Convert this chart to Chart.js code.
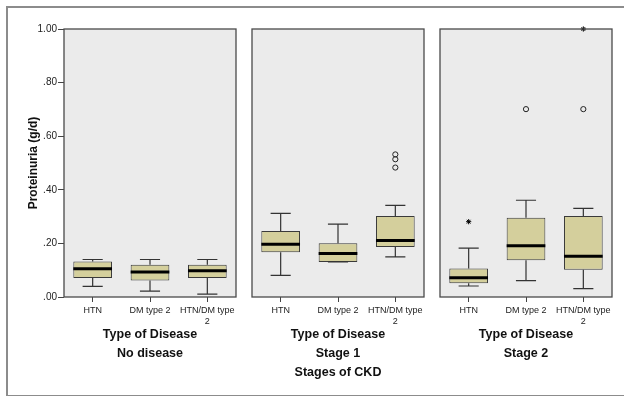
<!DOCTYPE html>
<html>
<head>
<meta charset="utf-8">
<script src="https://cdn.jsdelivr.net/npm/chart.js@4/dist/chart.umd.min.js"></script>
<style>
body { margin: 0; background: #fff; overflow: hidden; }
#wrap { position: relative; width: 624px; height: 396px; }
#wrap canvas { position: absolute; left: 0; top: 0; }
#frame { position: absolute; left: 6px; top: 6px; width: 640px; height: 387px;
  border: 2px solid #8c8c8c; border-right: none; }
</style>
</head>
<body>
<div id="wrap">
  <div id="frame"></div>
  <canvas id="p0" width="624" height="396"></canvas>
  <canvas id="p1" width="624" height="396"></canvas>
  <canvas id="p2" width="624" height="396"></canvas>
</div>
<script>
// categories and panels
var categories = ['HTN', 'DM type 2', 'HTN/DM type 2'];
var stages = ['No disease', 'Stage 1', 'Stage 2'];

// box plot statistics, one row per stage
var whiskerLow  = [[0.040, 0.022, 0.011], [0.081, 0.131, 0.150], [0.041, 0.061, 0.031]];
var q1          = [[0.071, 0.062, 0.071], [0.167, 0.131, 0.187], [0.051, 0.137, 0.102]];
var median      = [[0.105, 0.093, 0.098], [0.197, 0.162, 0.211], [0.072, 0.191, 0.152]];
var q3          = [[0.132, 0.120, 0.120], [0.246, 0.201, 0.302], [0.106, 0.296, 0.302]];
var whiskerHigh = [[0.140, 0.140, 0.140], [0.312, 0.272, 0.342], [0.182, 0.361, 0.331]];

// outliers (circles) and extremes (stars)
var circles = [
  [],
  [{x: 'HTN/DM type 2', y: 0.532}, {x: 'HTN/DM type 2', y: 0.514}, {x: 'HTN/DM type 2', y: 0.483}],
  [{x: 'DM type 2', y: 0.701}, {x: 'HTN/DM type 2', y: 0.701}]
];
var stars = [
  [],
  [],
  [{x: 'HTN', y: 0.281}, {x: 'HTN/DM type 2', y: 1.0}]
];

var yTicks = [0, 0.2, 0.4, 0.6, 0.8, 1.0];

var boxPlugin = {
  id: 'boxPlugin',
  beforeDatasetsDraw: function(chart) {
    var a = chart.chartArea, ctx = chart.ctx;
    ctx.save();
    ctx.fillStyle = '#ebebeb';
    ctx.fillRect(a.left, a.top, a.right - a.left, a.bottom - a.top);
    ctx.restore();
  },
  afterDatasetDraw: function(chart, args) {
    if (args.index !== 0) return;
    var p = chart.options.plugins.boxPlugin.panel;
    var y = chart.scales.y, ctx = chart.ctx;
    var meta = chart.getDatasetMeta(0);
    ctx.save();
    meta.data.forEach(function(bar, i) {
      var half = bar.width / 2, cap = bar.width * 0.26;
      ctx.strokeStyle = '#333';
      ctx.lineWidth = 1.2;
      ctx.beginPath();
      ctx.moveTo(bar.x, y.getPixelForValue(q3[p][i]));
      ctx.lineTo(bar.x, y.getPixelForValue(whiskerHigh[p][i]));
      ctx.moveTo(bar.x - cap, y.getPixelForValue(whiskerHigh[p][i]));
      ctx.lineTo(bar.x + cap, y.getPixelForValue(whiskerHigh[p][i]));
      ctx.moveTo(bar.x, y.getPixelForValue(q1[p][i]));
      ctx.lineTo(bar.x, y.getPixelForValue(whiskerLow[p][i]));
      ctx.moveTo(bar.x - cap, y.getPixelForValue(whiskerLow[p][i]));
      ctx.lineTo(bar.x + cap, y.getPixelForValue(whiskerLow[p][i]));
      ctx.stroke();
      ctx.strokeStyle = '#000';
      ctx.lineWidth = 3;
      ctx.beginPath();
      ctx.moveTo(bar.x - half, y.getPixelForValue(median[p][i]));
      ctx.lineTo(bar.x + half, y.getPixelForValue(median[p][i]));
      ctx.stroke();
    });
    ctx.restore();
  },
  afterDraw: function(chart) {
    var a = chart.chartArea, ctx = chart.ctx;
    ctx.save();
    ctx.strokeStyle = '#4a4a4a';
    ctx.lineWidth = 1.3;
    ctx.strokeRect(a.left, a.top, a.right - a.left, a.bottom - a.top);
    ctx.restore();
  }
};

function makePanel(p, padLeft, padRight) {
  var titleLines = ['Type of Disease', stages[p]];
  if (p === 1) titleLines.push('Stages of CKD');
  var boxes = categories.map(function(c, i) { return [q1[p][i], q3[p][i]]; });

  return new Chart(document.getElementById('p' + p), {
    type: 'bar',
    data: {
      labels: categories,
      datasets: [{
        data: boxes,
        backgroundColor: '#d4cf9c',
        borderColor: '#3a3a3a',
        borderWidth: 1,
        borderSkipped: false,
        barPercentage: 0.675,
        categoryPercentage: 1
      }, {
        type: 'line',
        data: circles[p],
        showLine: false,
        pointStyle: 'circle',
        pointRadius: 2.6,
        pointBorderWidth: 1,
        pointBorderColor: '#222',
        pointBackgroundColor: 'rgba(0,0,0,0)'
      }, {
        type: 'line',
        data: stars[p],
        showLine: false,
        clip: false,
        pointStyle: 'star',
        pointRadius: 2.6,
        pointBorderWidth: 1,
        pointBorderColor: '#000'
      }]
    },
    options: {
      responsive: false,
      animation: false,
      layout: { padding: { left: padLeft, right: padRight, top: 29, bottom: 0 } },
      plugins: {
        legend: { display: false },
        tooltip: { enabled: false },
        boxPlugin: { panel: p }
      },
      scales: {
        x: {
          afterFit: function(s) { s.height = 99; },
          grid: { drawOnChartArea: false, offset: false, tickLength: 5, color: '#444' },
          border: { display: false },
          ticks: {
            color: '#222',
            padding: 3,
            maxRotation: 0,
            autoSkip: false,
            font: { family: 'Liberation Sans, Arial', size: 9 },
            callback: function(v) {
              var l = this.getLabelForValue(v);
              return l === 'HTN/DM type 2' ? ['HTN/DM type', '2'] : l;
            }
          },
          title: {
            display: true,
            text: titleLines,
            color: '#111',
            font: { family: 'Liberation Sans, Arial', size: 12.5, weight: 'bold', lineHeight: '19px' },
            padding: { top: 0, bottom: titleLines.length === 3 ? 13.5 : 32.5 }
          }
        },
        y: {
          display: p === 0,
          min: 0,
          max: 1,
          afterFit: function(s) { s.width = p === 0 ? 50 : 0; },
          afterBuildTicks: function(s) { s.ticks = yTicks.map(function(v) { return {value: v}; }); },
          grid: { drawOnChartArea: false, tickLength: 6, color: '#444' },
          border: { display: false },
          ticks: {
            color: '#222',
            padding: 1,
            font: { family: 'Liberation Sans, Arial', size: 10 },
            callback: function(v) { return v.toFixed(2).replace(/^0/, ''); }
          },
          title: {
            display: true,
            text: 'Proteinuria (g/d)',
            color: '#111',
            font: { family: 'Liberation Sans, Arial', size: 12, weight: 'bold' },
            padding: { top: 12, bottom: 0 }
          }
        }
      }
    },
    plugins: [boxPlugin]
  });
}

makePanel(0, 14, 388);
makePanel(1, 252, 200);
makePanel(2, 440, 12);
</script>
</body>
</html>
